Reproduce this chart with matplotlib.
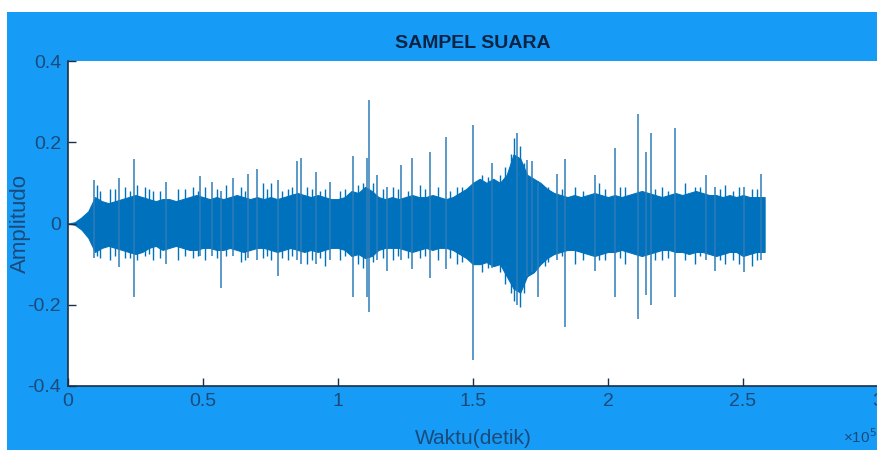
import numpy as np
import matplotlib
matplotlib.use("Agg")
import matplotlib.pyplot as plt
from matplotlib.patches import Rectangle

# ---------------- data ----------------
# sampled envelope of the dense waveform body, every 2500 samples
env_step = 2500
env_top = [0, 0.003, 0.015, 0.03, 0.065, 0.055, 0.05, 0.055, 0.06, 0.065,
           0.07, 0.065, 0.06, 0.055, 0.06, 0.06, 0.055, 0.06, 0.065, 0.07,
           0.065, 0.06, 0.065, 0.06, 0.065, 0.07, 0.065, 0.06, 0.065, 0.06,
           0.065, 0.06, 0.065, 0.07, 0.075, 0.07, 0.065, 0.07, 0.065, 0.06,
           0.06, 0.065, 0.08, 0.075, 0.09, 0.08, 0.065, 0.06, 0.065, 0.06,
           0.065, 0.07, 0.065, 0.065, 0.07, 0.065, 0.06, 0.065, 0.075, 0.085,
           0.1, 0.11, 0.1, 0.11, 0.1, 0.12, 0.17, 0.16, 0.12, 0.11,
           0.1, 0.085, 0.075, 0.07, 0.065, 0.07, 0.065, 0.07, 0.075, 0.07,
           0.065, 0.07, 0.065, 0.07, 0.075, 0.08, 0.075, 0.07, 0.065, 0.07,
           0.075, 0.07, 0.075, 0.08, 0.075, 0.07, 0.07, 0.065, 0.07, 0.065,
           0.07, 0.065, 0.065, 0.065]
env_bot = [0, -0.003, -0.015, -0.035, -0.07, -0.06, -0.055, -0.06, -0.065, -0.07,
           -0.075, -0.07, -0.06, -0.055, -0.065, -0.06, -0.055, -0.06, -0.065, -0.065,
           -0.06, -0.06, -0.065, -0.065, -0.06, -0.065, -0.07, -0.065, -0.06, -0.06,
           -0.065, -0.07, -0.065, -0.06, -0.065, -0.07, -0.065, -0.07, -0.065, -0.06,
           -0.06, -0.065, -0.08, -0.075, -0.085, -0.08, -0.065, -0.06, -0.06, -0.06,
           -0.065, -0.07, -0.065, -0.06, -0.065, -0.06, -0.06, -0.065, -0.075, -0.085,
           -0.1, -0.1, -0.095, -0.105, -0.1, -0.13, -0.16, -0.17, -0.13, -0.12,
           -0.1, -0.085, -0.075, -0.07, -0.065, -0.065, -0.07, -0.075, -0.08, -0.075,
           -0.07, -0.07, -0.065, -0.07, -0.075, -0.08, -0.075, -0.07, -0.065, -0.065,
           -0.07, -0.07, -0.075, -0.07, -0.07, -0.075, -0.08, -0.075, -0.07, -0.07,
           -0.08, -0.075, -0.07, -0.07]
signal_end = 258000

# major spikes: sample index, max, min
spike_x = [9630, 18889, 24444, 36296, 48889, 53333, 56667, 61111, 66667, 70000,
           77778, 84815, 86296, 91852, 97037, 105556, 110741, 111481, 114444, 118148,
           123333, 127407, 134074, 140000, 150000, 157037, 166296, 170000, 171852, 174074,
           181111, 184074, 195185, 202593, 211111, 214074, 215926, 224815, 236296, 239630,
           250370, 256667]
spike_top = [0.108, 0.113, 0.16, 0.103, 0.118, 0.103, 0.08, 0.113, 0.123, 0.133,
             0.108, 0.153, 0.162, 0.128, 0.103, 0.165, 0.162, 0.303, 0.12, 0.09,
             0.145, 0.162, 0.175, 0.214, 0.243, 0.15, 0.224, 0.157, 0.155, 0.1,
             0.123, 0.16, 0.12, 0.185, 0.27, 0.177, 0.224, 0.234, 0.12, 0.09,
             0.09, 0.123]
spike_bot = [-0.084, -0.106, -0.18, -0.1, -0.08, -0.08, -0.158, -0.08, -0.085, -0.09,
             -0.13, -0.09, -0.1, -0.1, -0.09, -0.182, -0.18, -0.217, -0.09, -0.118,
             -0.09, -0.113, -0.133, -0.113, -0.335, -0.11, -0.2, -0.13, -0.12, -0.18,
             -0.09, -0.254, -0.118, -0.182, -0.236, -0.175, -0.2, -0.18, -0.09, -0.118,
             -0.12, -0.09]

# minor peaks roughening the body edge
minor_x = [10741, 15556, 21111, 25556, 28519, 31481, 40741, 46296, 50741, 58519,
           64074, 72222, 75185, 81481, 88519, 95185, 100741, 109259, 116667, 120370,
           130370, 137037, 144074, 153333, 160000, 176667, 187778, 196667, 206296, 220000,
           228519, 232222, 243333, 248519, 253333,
           11852, 17407, 22963, 30000, 34074, 43333, 48148, 55185, 65556, 73704,
           79259, 82963, 90370, 93333, 102593, 107407, 112963, 122222, 125926, 132222,
           141481, 145926, 155556, 161852, 164074, 165185, 167407, 168889, 177778, 182963,
           190741, 198889, 204444, 217407, 222222, 234074, 241481, 246296, 255185]
minor_top = [0.095, 0.085, 0.09, 0.095, 0.09, 0.08, 0.085, 0.09, 0.09, 0.095,
             0.09, 0.1, 0.1, 0.085, 0.09, 0.085, 0.08, 0.1, 0.085, 0.09,
             0.095, 0.09, 0.09, 0.12, 0.12, 0.09, 0.09, 0.1, 0.09, 0.09,
             0.1, 0.09, 0.095, 0.09, 0.085,
             0.08, 0.085, 0.08, 0.085, 0.08, 0.085, 0.08, 0.085, 0.08, 0.085,
             0.08, 0.09, 0.085, 0.08, 0.085, 0.095, 0.1, 0.085, 0.08, 0.085,
             0.08, 0.09, 0.115, 0.14, 0.17, 0.21, 0.19, 0.15, 0.09, 0.085,
             0.08, 0.085, 0.09, 0.085, 0.08, 0.09, 0.085, 0.08, 0.085]
minor_bot = [-0.08, -0.09, -0.085, -0.09, -0.08, -0.09, -0.09, -0.085, -0.09, -0.08,
             -0.095, -0.085, -0.09, -0.09, -0.1, -0.105, -0.09, -0.11, -0.085, -0.09,
             -0.085, -0.09, -0.1, -0.12, -0.12, -0.105, -0.1, -0.09, -0.1, -0.09,
             -0.09, -0.1, -0.1, -0.1, -0.105,
             -0.085, -0.08, -0.085, -0.075, -0.085, -0.08, -0.08, -0.085, -0.09, -0.08,
             -0.085, -0.08, -0.09, -0.085, -0.08, -0.1, -0.095, -0.08, -0.085, -0.08,
             -0.085, -0.095, -0.11, -0.15, -0.17, -0.19, -0.205, -0.17, -0.095, -0.08,
             -0.09, -0.09, -0.085, -0.09, -0.085, -0.08, -0.09, -0.09, -0.09]

x_ticks = [0, 50000, 100000, 150000, 200000, 250000, 300000]
x_tick_labels = ["0", "0.5", "1", "1.5", "2", "2.5", "3"]
y_ticks = [-0.4, -0.2, 0, 0.2, 0.4]
y_tick_labels = ["-0.4", "-0.2", "0", "0.2", "0.4"]

# ---------------- styling ----------------
FONT = ["Liberation Sans Narrow", "Liberation Sans", "DejaVu Sans"]
plt.rcParams["font.family"] = FONT
BG = "#169cf6"
WAVE = "#0072BD"
TXT = "#1b4a7a"

W, H = 877, 450
fig = plt.figure(figsize=(W / 100, H / 100), dpi=100, facecolor="white")
fig.patches.append(Rectangle((7 / W, 0), 1, 438 / H, transform=fig.transFigure,
                             facecolor=BG, edgecolor="none", zorder=-5))

ax = fig.add_axes([68 / W, 64 / H, 810 / W, 325 / H])
ax.set_facecolor("white")

env_x = [i * env_step for i in range(len(env_top))] + [signal_end]
top = env_top + [env_top[-1]]
bot = env_bot + [env_bot[-1]]
ax.fill_between(env_x, bot, top, color=WAVE, lw=0.8, edgecolor=WAVE)
ax.vlines(minor_x, minor_bot, minor_top, color=WAVE, lw=1.0)
ax.vlines(spike_x, spike_bot, spike_top, color="#2f7db8", lw=1.1)

ax.set_xlim(0, 300000)
ax.set_ylim(-0.4, 0.4)
ax.set_xticks(x_ticks)
ax.set_xticklabels(x_tick_labels)
ax.set_yticks(y_ticks)
ax.set_yticklabels(y_tick_labels)
ax.tick_params(direction="in", length=6, width=1, color="#1c2f45",
               labelsize=14, labelcolor=TXT, pad=5)
for s in ("top", "right"):
    ax.spines[s].set_visible(False)
for s in ("left", "bottom"):
    ax.spines[s].set_color("#1c2f45")
    ax.spines[s].set_linewidth(1.2)

ax.set_title("SAMPEL SUARA", fontsize=14, fontweight="bold", color="#0d2345", pad=9)
ax.set_xlabel("Waktu(detik)", fontsize=15, color=TXT, va="center")
ax.xaxis.set_label_coords(0.5, (386 - 438) / 325)
ax.set_ylabel("Amplitudo", fontsize=16, color=TXT, va="center")
ax.yaxis.set_label_coords((20 - 68) / 810, 0.5)

fig.text(843 / W, 1 - 437 / H, "×10$^{5}$", fontsize=11, color=TXT,
         ha="left", va="center")

fig.savefig("out.png", dpi=100, facecolor="white")
